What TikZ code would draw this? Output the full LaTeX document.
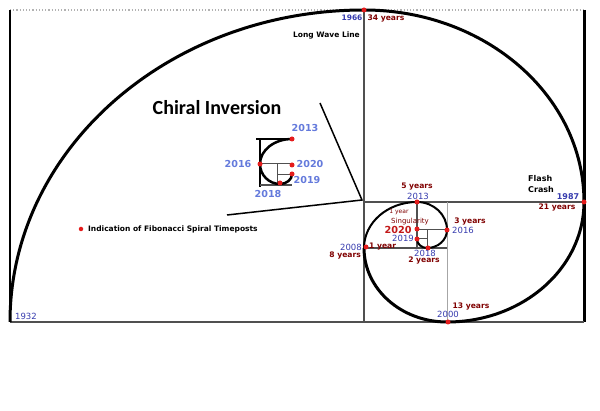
\documentclass[tikz,border=0pt]{standalone}
\usepackage{fontspec}
\setmainfont{DejaVu Sans}
\newfontfamily\titlefont{Carlito}
\usetikzlibrary{positioning}
\definecolor{yearblue}{RGB}{55,60,175}
\definecolor{insetblue}{RGB}{100,122,220}
\definecolor{spanred}{RGB}{128,0,0}
\definecolor{postred}{RGB}{228,28,28}
\definecolor{gridgray}{RGB}{80,80,80}
\tikzstyle{Y} = [text=yearblue, inner sep=0pt,
			font=\fontsize{8.5}{10}\selectfont]
\tikzstyle{YB} = [text=yearblue, inner sep=0pt,
			font=\bfseries\fontsize{7.5}{9}\selectfont]
\tikzstyle{S} = [text=spanred, inner sep=0pt,
			font=\bfseries\fontsize{7.6}{9}\selectfont]
\tikzstyle{I} = [text=insetblue, inner sep=0pt,
			font=\bfseries\fontsize{9.6}{11}\selectfont]
\tikzstyle{T} = [text=black, inner sep=0pt,
			font=\bfseries\fontsize{7.5}{9}\selectfont]
\tikzstyle{P} = [circle, fill=postred, inner sep=0pt, minimum size=5pt]
\tikzstyle{G} = [draw=gridgray, line width=1pt]
\tikzstyle{SP} = [draw, line width=3pt]

\begin{document}
\begin{tikzpicture}[x=1pt, y=-1pt, line cap=butt]

\useasboundingbox [fill=white] (0,0) rectangle (600,411);

% frame and squares
\coordinate (nw) at (10,10);
\coordinate (ne) at (584,10);
\coordinate (sw) at (10,322);
\coordinate (se) at (584,322);
\coordinate (y1932) at (10,322);

\draw [draw=black!30, dotted, line width=1.2pt] (nw) -- (ne);
\draw [line width=2pt] (nw) -- (sw);
\draw [line width=3pt] (ne) -- (se);
\draw [draw=gridgray, line width=2pt] (sw) -- (se);
\path [G, line width=1.5pt] (364,10) -- (364,322);
\path [G, line width=2pt] (364,202) -- (584,202);
\path [G, draw=black!35] (447,202) -- (447,322);
\path [G, line width=1.5pt] (364,248) -- (447,248);
\path [G, line width=1.5pt] (417,202) -- (417,248);
\path [G] (417,230) -- (447,230);
\path [G] (427,230) -- (427,248);
\path [G] (417,239) -- (427,239);

% spiral
\path [SP] (y1932) arc[start angle=180, end angle=270, x radius=354, y radius=312]
	arc[start angle=270, end angle=360, x radius=220, y radius=192]
	arc[start angle=0, end angle=90, x radius=137, y radius=120]
	arc[start angle=90, end angle=180, x radius=83, y radius=74];
\path [SP, line width=2pt] (364,248) arc[start angle=180, end angle=270, x radius=53, y radius=46]
	arc[start angle=270, end angle=360, x radius=30, y radius=28]
	arc[start angle=0, end angle=90, x radius=20, y radius=18]
	arc[start angle=90, end angle=180, x radius=10, y radius=9];

% timeposts
\node [P] (p1966) at (364,10) {};
\node [P] (p1987) at (584,202) {};
\node [P] (p2000) at (448,322) {};
\node [P] (p2008) at (366,247) {};
\node [P] (p2013) at (417,202) {};
\node [P] (p2016) at (447,230) {};
\node [P] (p2018) at (428,248) {};
\node [P] (p2019) at (417,239) {};
\node [P] (p2020) at (417,229) {};

% labels
\node [YB] (l1966) at (352,18) {1966};
\node [S] (s1966) at (386,19) {34 years};
\node [T, anchor=east] (wave) at (360,35) {Long Wave Line};
\node [T, anchor=north west, align=left,
	font=\bfseries\fontsize{8}{11}\selectfont] (crash) at (528,175) {Flash\\Crash};
\node [YB, font=\bfseries\fontsize{8}{9}\selectfont] (l1987) at (568,197) {1987};
\node [S] (s1987) at (557,208) {21 years};
\node [S] (s2013) at (417,187) {5 years};
\node [Y] (l2013) at (418,196) {2013};
\node [S, font=\fontsize{6}{7}\selectfont] (one) at (399,212) {1 year};
\node [S, font=\fontsize{7}{8}\selectfont] (sing) at (410,222) {Singularity};
\node [S, text=postred!85!black, font=\bfseries\fontsize{9.7}{11}\selectfont]
	(l2020) at (398,230) {2020};
\node [Y] (l2019) at (403,238.5) {2019};
\node [S] (s2016) at (470,222) {3 years};
\node [Y] (l2016) at (463,230) {2016};
\node [S, anchor=west, font=\bfseries\fontsize{7.6}{9}\selectfont] (s2008) at (369,246.5) {1 year};
\node [Y, anchor=east] (l2008) at (362,247) {2008};
\node [S, anchor=east] (e2008) at (361,256) {8 years};
\node [Y] (l2018) at (425,253) {2018};
\node [S] (s2018) at (424,261) {2 years};
\node [S] (s2000) at (471,307) {13 years};
\node [Y] (l2000) at (448,314) {2000};
\node [Y] (l1932) at (26,316) {1932};

% chiral inversion inset
\node [font=\titlefont\bfseries\fontsize{20}{22}\selectfont, inner sep=0pt]
	(chiral) at (217,108) {Chiral Inversion};
\coordinate (tip) at (362,200);
\path [draw, line width=1.5pt] (320,103) -- (tip) -- (227,215);

\path [draw, line width=2.5pt] (256,139) -- (293,139);
\path [draw, line width=1.5pt] (260,139) -- (260,187);
\path [G] (260,164) -- (292,164);
\path [G] (277,164) -- (277,185);
\path [G] (277,175) -- (292,175);
\path [G, line width=1.5pt] (260,185) -- (292,185);
\path [SP, line width=2.5pt] (292,139) arc[start angle=270, end angle=180, x radius=32, y radius=25]
	arc[start angle=180, end angle=90, x radius=20, y radius=20]
	arc[start angle=90, end angle=0, x radius=12, y radius=10];

\node [P] (q2013) at (292,139) {};
\node [P] (q2016) at (260,164) {};
\node [P] (q2020) at (292,165) {};
\node [P] (q2019) at (292,174) {};
\node [P] (q2018) at (280,183) {};

\node [I] (i2013) at (305,128) {2013};
\node [I] (i2016) at (238,164) {2016};
\node [I] (i2020) at (310,164) {2020};
\node [I] (i2019) at (307,180) {2019};
\node [I] (i2018) at (268,194) {2018};

% legend
\node [P, minimum size=4.5pt] (key) at (81,229) {};
\node [T, anchor=west] (keytext) at (88,229) {Indication of Fibonacci Spiral Timeposts};

\end{tikzpicture}
\end{document}
